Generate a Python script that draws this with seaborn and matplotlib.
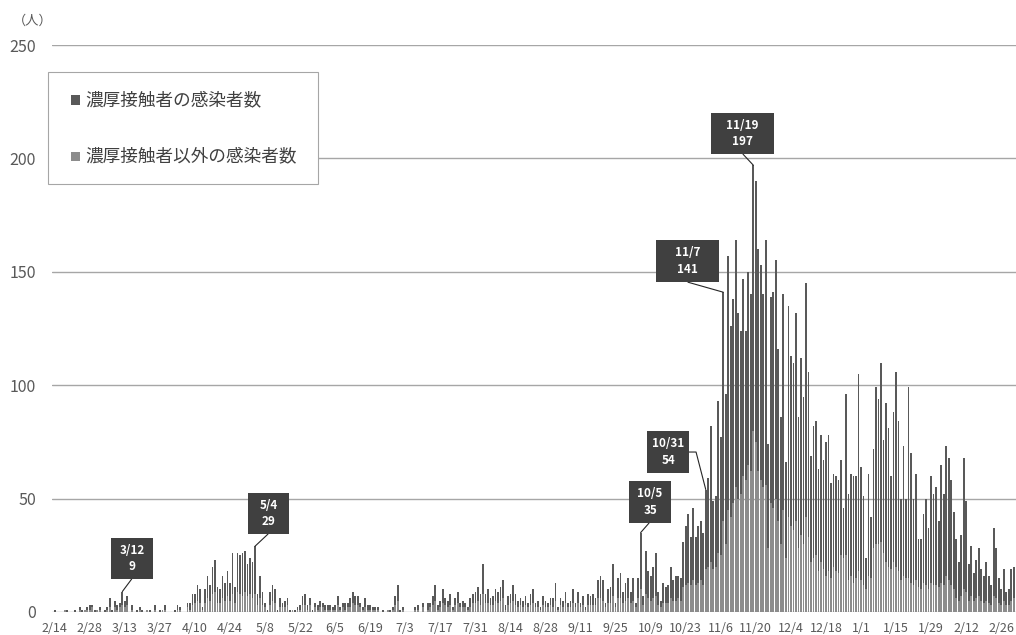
import numpy as np
import pandas as pd
import matplotlib
matplotlib.use("Agg")
import matplotlib.pyplot as plt
import seaborn as sns
from matplotlib.transforms import Affine2D, ScaledTranslation
from matplotlib.patches import Rectangle
from matplotlib.lines import Line2D

# ---------------- data (daily, from 2/14 to 3/3) ----------------
series_names = ["濃厚接触者の感染者数", "濃厚接触者以外の感染者数"]

totals = [
    1, 0, 0, 0, 1, 1, 0, 0, 1, 0,
    2, 1, 1, 2, 3, 3, 1, 1, 2, 0,
    1, 2, 6, 1, 5, 3, 4, 9, 5, 7,
    0, 3, 0, 1, 2, 1, 0, 1, 1, 0,
    3, 0, 1, 1, 3, 0, 0, 0, 1, 3,
    2, 0, 0, 4, 4, 8, 8, 12, 10, 2,
    10, 16, 12, 20, 23, 11, 10, 16, 13, 18,
    13, 26, 11, 26, 25, 26, 27, 21, 24, 22,
    29, 8, 16, 9, 4, 1, 9, 12, 10, 1,
    6, 4, 5, 6, 1, 1, 1, 2, 3, 7,
    8, 3, 6, 1, 4, 3, 5, 4, 3, 3,
    3, 2, 3, 7, 2, 4, 4, 4, 6, 9,
    7, 7, 4, 2, 6, 3, 3, 2, 2, 2,
    0, 1, 0, 1, 1, 2, 7, 12, 1, 2,
    0, 0, 0, 0, 2, 3, 0, 4, 0, 4,
    4, 7, 12, 3, 5, 10, 6, 5, 8, 2,
    6, 9, 4, 5, 4, 2, 6, 8, 9, 11,
    8, 21, 8, 10, 6, 7, 10, 9, 11, 14,
    3, 7, 8, 12, 8, 5, 6, 5, 7, 4,
    8, 10, 4, 5, 2, 7, 5, 4, 6, 6,
    13, 2, 6, 5, 9, 4, 5, 10, 4, 9,
    4, 7, 2, 8, 7, 8, 6, 14, 16, 14,
    4, 10, 11, 21, 4, 15, 17, 9, 13, 15,
    9, 15, 4, 15, 35, 7, 27, 18, 16, 20,
    26, 9, 5, 13, 11, 12, 20, 14, 16, 16,
    15, 31, 38, 43, 33, 46, 33, 38, 40, 35,
    54, 59, 82, 49, 51, 93, 77, 141, 96, 157,
    126, 138, 164, 132, 124, 147, 124, 150, 140, 197,
    190, 160, 153, 140, 164, 74, 139, 141, 155, 116,
    86, 140, 66, 135, 113, 110, 132, 86, 112, 95,
    145, 106, 69, 82, 84, 63, 78, 67, 75, 78,
    57, 61, 60, 58, 67, 46, 96, 52, 61, 60,
    60, 105, 64, 51, 24, 61, 42, 72, 99, 94,
    110, 76, 92, 81, 60, 88, 106, 84, 50, 73,
    50, 99, 70, 50, 61, 32, 32, 43, 50, 37,
    60, 52, 55, 40, 65, 52, 73, 68, 58, 44,
    32, 22, 34, 68, 49, 21, 29, 17, 23, 28,
    19, 16, 22, 16, 12, 37, 28, 15, 10, 19,
    9, 10, 19, 20,
]

# 濃厚接触者以外 (lower, lighter segment)
others = [
    0, 0, 0, 0, 1, 0, 0, 0, 0, 0,
    1, 0, 1, 1, 1, 2, 0, 1, 1, 0,
    0, 1, 2, 0, 2, 1, 2, 3, 2, 3,
    0, 1, 0, 0, 1, 0, 0, 1, 0, 0,
    1, 0, 0, 1, 1, 0, 0, 0, 0, 1,
    1, 0, 0, 2, 1, 3, 4, 5, 4, 1,
    4, 6, 5, 8, 9, 4, 4, 6, 5, 7,
    5, 8, 4, 9, 8, 7, 9, 7, 8, 6,
    8, 3, 6, 3, 2, 0, 3, 5, 4, 0,
    2, 2, 2, 3, 0, 1, 0, 1, 1, 3,
    3, 1, 3, 0, 2, 1, 2, 2, 1, 1,
    1, 1, 1, 3, 1, 2, 1, 2, 2, 4,
    3, 3, 2, 1, 2, 1, 1, 1, 1, 1,
    0, 0, 0, 1, 0, 1, 3, 5, 0, 1,
    0, 0, 0, 0, 1, 1, 0, 2, 0, 1,
    2, 3, 5, 1, 2, 4, 3, 2, 3, 1,
    3, 4, 2, 2, 2, 1, 2, 4, 4, 5,
    3, 8, 4, 4, 3, 3, 5, 4, 5, 6,
    1, 3, 4, 5, 3, 2, 3, 2, 3, 2,
    3, 4, 2, 2, 1, 3, 2, 2, 3, 2,
    5, 1, 3, 2, 4, 2, 2, 4, 2, 4,
    2, 3, 1, 3, 3, 3, 3, 6, 6, 5,
    2, 4, 4, 7, 2, 6, 6, 4, 5, 6,
    4, 5, 2, 6, 10, 3, 8, 6, 5, 6,
    7, 3, 2, 4, 4, 4, 6, 5, 5, 6,
    5, 11, 12, 13, 12, 14, 12, 13, 14, 12,
    19, 20, 22, 19, 20, 26, 25, 40, 30, 45,
    42, 48, 55, 50, 52, 60, 58, 65, 62, 80,
    75, 62, 58, 55, 56, 28, 48, 46, 50, 40,
    30, 45, 24, 42, 38, 36, 40, 28, 34, 30,
    42, 33, 22, 24, 25, 18, 22, 19, 16, 18,
    15, 20, 18, 17, 25, 24, 25, 14, 16, 13,
    15, 18, 14, 12, 10, 16, 15, 28, 30, 30,
    31, 26, 22, 20, 19, 22, 20, 18, 14, 16,
    15, 15, 13, 12, 14, 11, 10, 13, 12, 10,
    13, 12, 12, 11, 13, 12, 16, 14, 12, 10,
    6, 5, 7, 10, 9, 5, 7, 5, 6, 7,
    5, 4, 5, 4, 3, 7, 6, 4, 3, 5,
    3, 3, 5, 6,
]

tick_labels = ["2/14", "2/28", "3/13", "3/27", "4/10", "4/24", "5/8", "5/22",
               "6/5", "6/19", "7/3", "7/17", "7/31", "8/14", "8/28", "9/11",
               "9/25", "10/9", "10/23", "11/6", "11/20", "12/4", "12/18",
               "1/1", "1/15", "1/29", "2/12", "2/26"]
tick_step = 14

# annotated days: (label, day index)
annot_labels = ["3/12", "5/4", "10/5", "10/31", "11/7", "11/19"]
annot_days = [27, 80, 234, 260, 267, 279]

y_ticks = [0, 50, 100, 150, 200, 250]

# ---------------- styling ----------------
W, H = 1016, 635
C_DARK = "#595959"
C_LIGHT = "#8c8c8c"
C_TEXT = "#595959"
C_LEG_TEXT = "#404040"
C_GRID = "#a6a6a6"
C_BOX = "#404040"

sns.set_theme(style="white")
plt.rcParams["font.family"] = ["Noto Sans CJK JP", "DejaVu Sans"]

totals_a = np.array(totals)
others_a = np.array(others)
assert len(totals_a) == len(others_a)
n = len(totals_a)
days = np.arange(n)
contacts_a = totals_a - others_a

df = pd.DataFrame({
    "day": np.concatenate([days, days]),
    "count": np.concatenate([contacts_a, others_a]),
    "type": [series_names[0]] * n + [series_names[1]] * n,
})

fig = plt.figure(figsize=(W / 100, H / 100), dpi=100)
ax = fig.add_axes([52 / W, 23 / H, 964 / W, 567 / H])

sns.histplot(data=df, x="day", weights="count", hue="type",
             hue_order=series_names, multiple="stack", discrete=True,
             shrink=0.7, palette=[C_DARK, C_LIGHT], alpha=1, linewidth=0,
             legend=False, ax=ax)

ax.set_xlim(-1.08, n - 0.1)
ax.set_ylim(0, 250)
ax.set_yticks(y_ticks)
ax.set_yticklabels([str(v) for v in y_ticks])
ax.set_xticks(np.arange(len(tick_labels)) * tick_step)
ax.set_xticklabels(tick_labels)
ax.tick_params(axis="y", length=0, pad=11.5, labelsize=11.5, labelcolor=C_TEXT)
ax.tick_params(axis="x", length=0, pad=7, labelsize=9, labelcolor=C_TEXT)
ax.set_xlabel("")
ax.set_ylabel("")
for s in ax.spines.values():
    s.set_visible(False)
ax.yaxis.grid(True, color=C_GRID, linewidth=1)
ax.xaxis.grid(False)
ax.set_axisbelow(True)

fig.text(33 / W, 1 - 21 / H, "（人）", ha="center", va="center",
         fontsize=9.5, color=C_TEXT)

# ---------------- callouts (pixel offsets from bar top) ----------------
callout_geom = [
    (-11.3, 12.6, 42, 41, [(9.4, 12.6), (0, 0)]),
    (-7.0, 12.2, 41, 41, [(13.0, 12.2), (0, 0)]),
    (-11.6, 9.6, 42, 42, [(8.4, 9.6), (0, 0)]),
    (-58.7, 16.5, 42, 42, [(-16.7, 37.5), (-9.7, 37.5), (0, 0)]),
    (-67.3, 10.0, 63, 42, [(-35.3, 10.0), (0, 0)]),
    (-42.3, 11.0, 63, 41, [(-10.3, 11.0), (0, 0)]),
]
for lab, d, (x0, y0, bw, bh, leader) in zip(annot_labels, annot_days, callout_geom):
    v = totals_a[d]
    tr = Affine2D() + ScaledTranslation(d, v, ax.transData)
    ax.add_line(Line2D([p[0] for p in leader], [p[1] for p in leader],
                       transform=tr, color="#262626", lw=0.8, clip_on=False, zorder=5))
    ax.add_patch(Rectangle((x0, y0), bw, bh, transform=tr, facecolor=C_BOX,
                           edgecolor="none", clip_on=False, zorder=6))
    ax.text(x0 + bw / 2, y0 + bh / 2, f"{lab}\n{v}", transform=tr,
            ha="center", va="center", color="white", fontsize=8.4,
            fontweight="bold", linespacing=1.35, zorder=7, clip_on=False)

# ---------------- legend (manual box) ----------------
def fx(x):
    return x / W


def fy(y):
    return 1 - y / H


fig.add_artist(Rectangle((fx(48), fy(184)), 270 / W, 112 / H,
                         transform=fig.transFigure, facecolor="white",
                         edgecolor=C_GRID, lw=0.8, zorder=10))
for name, col, yc in zip(series_names, [C_DARK, C_LIGHT], [100, 156.5]):
    fig.add_artist(Rectangle((fx(71), fy(yc + 4.5)), 9 / W, 9 / H,
                             transform=fig.transFigure, facecolor=col,
                             edgecolor="none", zorder=11))
    fig.text(fx(85), fy(yc), name, ha="left", va="center", fontsize=12.7,
             color=C_LEG_TEXT, zorder=12)

fig.savefig("out.png", dpi=100)
